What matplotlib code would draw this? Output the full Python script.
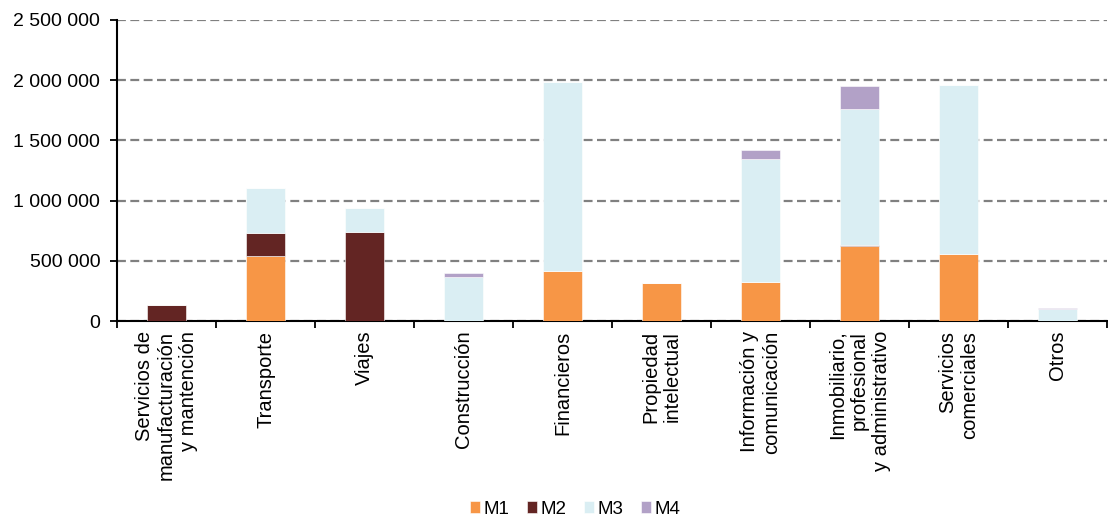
"""Stacked exports by service category and mode of supply (M1-M4)."""

import matplotlib.pyplot as plt
import numpy as np
from matplotlib.ticker import FuncFormatter, MultipleLocator

plt.rcParams["font.family"] = ["Liberation Sans", "DejaVu Sans"]

categories = [
    "Servicios de\nmanufacturación\ny mantención",
    "Transporte",
    "Viajes",
    "Construcción",
    "Financieros",
    "Propiedad\nintelectual",
    "Información y\ncomunicación",
    "Inmobiliario,\nprofesional\ny administrativo",
    "Servicios\ncomerciales",
    "Otros",
]

m1 = [0, 540000, 0, 0, 418000, 316000, 327000, 624000, 556000, 0]
m2 = [130000, 188000, 739000, 0, 0, 0, 0, 5000, 0, 0]
m3 = [0, 377000, 199000, 368000, 1564000, 0, 1021000, 1129000, 1402000, 102000]
m4 = [0, 0, 3000, 32000, 0, 0, 72000, 194000, 0, 3000]

series = {"M1": m1, "M2": m2, "M3": m3, "M4": m4}
colors = {"M1": "#F79646", "M2": "#632523", "M3": "#DAEEF3", "M4": "#B2A1C7"}


def thousands(v, _pos):
    return f"{int(v):,}".replace(",", " ")


fig = plt.figure(figsize=(11.08, 5.17), dpi=100)
ax = fig.add_axes([117 / 1108, 1 - 321 / 517, 990 / 1108, 301 / 517])

x = np.arange(len(categories))
bottom = np.zeros(len(categories))
for name, vals in series.items():
    ax.bar(x, vals, width=0.4, bottom=bottom, color=colors[name],
           edgecolor="white", linewidth=0.4, label=name, zorder=3)
    bottom += np.array(vals)

ax.set_xlim(-0.5, len(categories) - 0.5)
ax.set_ylim(0, 2500000)
ax.yaxis.set_major_locator(MultipleLocator(500000))
ax.yaxis.set_major_formatter(FuncFormatter(thousands))
ax.grid(axis="y", color="#808080", linestyle=(0, (4, 2)), linewidth=1.6,
        zorder=0)

# labels sit at the bar centres, tick marks at the category boundaries
ax.set_xticks(x)
ax.set_xticklabels(categories, rotation=90, ha="center", va="top",
                   multialignment="right", linespacing=1.2)
ax.set_xticks(np.arange(len(categories) + 1) - 0.5, minor=True)
ax.tick_params(axis="x", which="major", length=0, pad=7, labelsize=14.5)
ax.tick_params(axis="x", which="minor", length=5, width=1.3, direction="out")
ax.tick_params(axis="y", length=5, width=1.3, direction="out", pad=7,
               labelsize=14)

for side in ("top", "right"):
    ax.spines[side].set_visible(False)
for side in ("left", "bottom"):
    ax.spines[side].set_linewidth(1.5)

fig.legend(loc="lower center", bbox_to_anchor=(0.519, -0.034), ncol=4,
           frameon=False, fontsize=13.5, handlelength=0.55, handleheight=0.55,
           handletextpad=0.15, columnspacing=0.96)

fig.savefig("out.png", dpi=100)
